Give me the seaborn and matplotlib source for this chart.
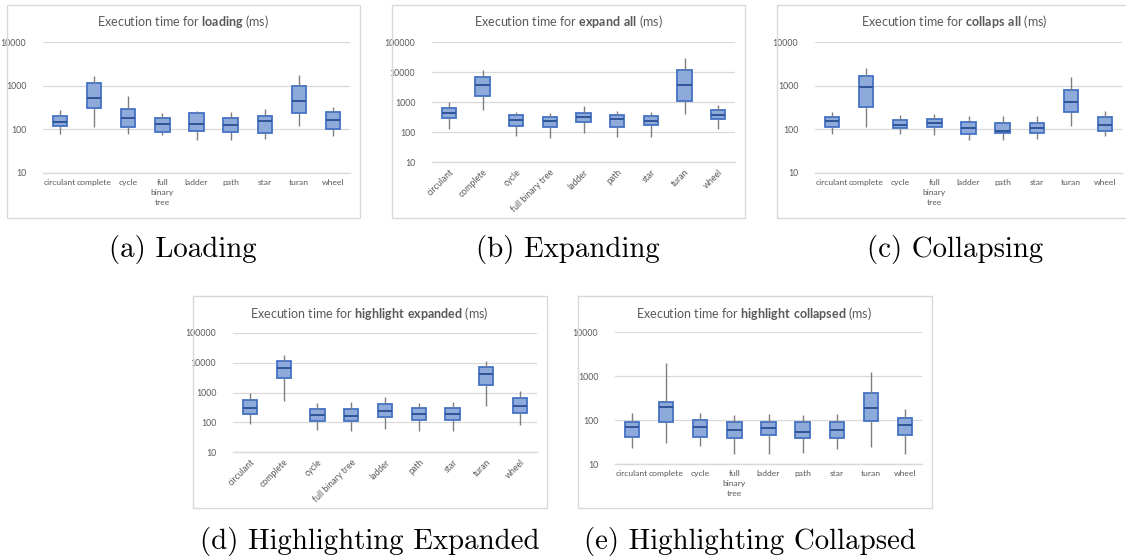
import numpy as np
import pandas as pd
import matplotlib
matplotlib.use("Agg")
import matplotlib.pyplot as plt
import seaborn as sns
from matplotlib.patches import Rectangle

# ---------------- data ----------------
categories = ["circulant", "complete", "cycle", "full binary tree", "ladder",
              "path", "star", "turan", "wheel"]

# (a) loading
load_lo  = [77, 115, 77, 74, 57, 57, 59, 119, 70]
load_q1  = [119, 310, 115, 87, 92, 87, 84, 240, 100]
load_med = [150, 525, 185, 130, 135, 125, 155, 440, 163]
load_q3  = [200, 1150, 295, 178, 235, 178, 200, 965, 248]
load_hi  = [270, 1700, 595, 240, 260, 252, 285, 1780, 320]

# (b) expand all
exp_lo  = [122, 525, 74, 65, 93, 68, 68, 390, 122]
exp_q1  = [290, 1630, 158, 147, 215, 147, 170, 1100, 265]
exp_med = [440, 3800, 258, 228, 315, 270, 232, 3800, 370]
exp_q3  = [630, 6800, 380, 315, 430, 380, 340, 12000, 555]
exp_hi  = [1000, 11500, 465, 440, 735, 490, 465, 30000, 770]

# (c) collaps all
col_lo  = [77, 113, 77, 74, 57, 57, 61, 119, 70]
col_q1  = [113, 320, 109, 113, 80, 84, 84, 252, 92]
col_med = [155, 915, 125, 142, 109, 92, 109, 425, 125]
col_q3  = [194, 1690, 163, 175, 149, 142, 142, 810, 190]
col_hi  = [252, 2600, 208, 227, 200, 200, 200, 1580, 260]

# (d) highlight expanded
hex_lo  = [88, 505, 55, 49, 58, 49, 49, 345, 81]
hex_q1  = [190, 2970, 110, 110, 147, 117, 117, 1770, 200]
hex_med = [303, 6600, 176, 163, 240, 190, 190, 4150, 343]
hex_q3  = [575, 11500, 285, 285, 400, 295, 295, 7200, 670]
hex_hi  = [960, 18000, 430, 490, 690, 430, 480, 11500, 1090]

# (e) highlight collapsed
hco_lo  = [23, 30, 26, 17, 17, 17.5, 22, 24, 17]
hco_q1  = [42, 90, 42, 38, 46, 40, 38, 95, 46]
hco_med = [69, 197, 70, 59, 67, 54, 58, 190, 76]
hco_q3  = [92, 256, 100, 92, 92, 90, 92, 418, 109]
hco_hi  = [147, 1950, 142, 130, 139, 130, 139, 1230, 175]

titles = ["loading", "expand all", "collaps all", "highlight expanded", "highlight collapsed"]
captions = ["(a) Loading", "(b) Expanding", "(c) Collapsing",
            "(d) Highlighting Expanded", "(e) Highlighting Collapsed"]
ytops = [10000, 100000, 10000, 100000, 10000]
rotated = [False, True, False, True, False]

panels = [
    (load_lo, load_q1, load_med, load_q3, load_hi),
    (exp_lo, exp_q1, exp_med, exp_q3, exp_hi),
    (col_lo, col_q1, col_med, col_q3, col_hi),
    (hex_lo, hex_q1, hex_med, hex_q3, hex_hi),
    (hco_lo, hco_q1, hco_med, hco_q3, hco_hi),
]

# ---------------- layout (pixels) ----------------
W, H = 1126, 560
sns.set_theme(style="white")
plt.rcParams["font.family"] = ["Lato", "DejaVu Sans"]
plt.rcParams["mathtext.fontset"] = "custom"
plt.rcParams["mathtext.rm"] = "Lato"
plt.rcParams["mathtext.bf"] = "Lato:bold"

fig = plt.figure(figsize=(W / 100, H / 100), dpi=100)
fig.patch.set_facecolor("white")

# axes rect: x0, x1, ytop, ybottom (pixels from top)
ax_px = [(43, 350, 42, 173), (432, 735, 42, 162), (815, 1122, 42, 173),
         (233, 537, 333, 452), (615, 922, 332, 464)]
border_px = [(7, 360, 5, 218), (392, 745, 5, 218), (777, 1132, 5, 218),
             (193, 547, 296, 508), (578, 932, 296, 508)]
title_px = [(183, 22), (568, 22), (954, 22), (369, 313), (754, 313)]
caption_px = [(183, 250), (568, 250), (955, 250), (370, 541), (750, 541)]

GRAY_TXT = "#595959"
GRID = "#d9d9d9"

for i in range(5):
    lo, q1, med, q3, hi = panels[i]
    rows = []
    for c, a, b, m, d, e in zip(categories, lo, q1, med, q3, hi):
        for v in (a, b, m, d, e):
            rows.append((c, v))
    df = pd.DataFrame(rows, columns=["graph", "ms"])

    bx0, bx1, by0, by1 = border_px[i]
    fig.patches.append(Rectangle((bx0 / W, 1 - by1 / H), (bx1 - bx0) / W, (by1 - by0) / H,
                                 transform=fig.transFigure, fill=False,
                                 edgecolor="#d9d9d9", linewidth=1.0, zorder=0))

    x0, x1, yt, yb = ax_px[i]
    ax = fig.add_axes([x0 / W, 1 - yb / H, (x1 - x0) / W, (yb - yt) / H])
    ax.set_facecolor("none")
    sns.boxplot(data=df, x="graph", y="ms", order=categories, ax=ax,
                whis=(0, 100), width=0.42, log_scale=True, showfliers=False,
                boxprops=dict(facecolor="#8eaadb", edgecolor="#4472c4", linewidth=1.3),
                medianprops=dict(color="#2f5597", linewidth=1.4),
                whiskerprops=dict(color="#7f7f7f", linewidth=1.0),
                capprops=dict(linewidth=0))
    ax.set_ylim(10, ytops[i])
    ax.set_xlim(-0.5, len(categories) - 0.5)
    ax.set_xlabel("")
    ax.set_ylabel("")
    decades = [10 ** k for k in range(1, int(np.log10(ytops[i])) + 1)]
    ax.set_yticks(decades)
    ax.set_yticklabels([str(d) for d in decades], fontsize=6.3, color=GRAY_TXT)
    ax.yaxis.set_minor_locator(matplotlib.ticker.NullLocator())
    ax.grid(axis="y", color=GRID, linewidth=0.9)
    ax.set_axisbelow(True)
    for s in ["top", "right", "left"]:
        ax.spines[s].set_visible(False)
    ax.spines["bottom"].set_color(GRID)
    ax.spines["bottom"].set_linewidth(1.0)
    ax.tick_params(axis="y", length=0, pad=12)
    ax.tick_params(axis="x", which="major", length=0, pad=4)
    ax.set_xticks(np.arange(len(categories) + 1) - 0.5, minor=True)
    ax.tick_params(axis="x", which="minor", length=3, color=GRID, width=1.0)
    if rotated[i]:
        ax.set_xticks(range(len(categories)))
        ax.set_xticklabels(categories, rotation=45, ha="right", rotation_mode="anchor",
                           fontsize=6.3, color=GRAY_TXT)
    else:
        labs = [c.replace(" ", "\n") if c == "full binary tree" else c for c in categories]
        ax.set_xticks(range(len(categories)))
        ax.set_xticklabels(labs, fontsize=6.1, color=GRAY_TXT, linespacing=1.5, va="top")

    tx, ty = title_px[i]
    t = titles[i].replace(" ", r"\ ")
    fig.text(tx / W, 1 - ty / H, "Execution time for $\\mathbf{" + t + "}$ (ms)",
             ha="center", va="center", fontsize=9, color=GRAY_TXT)

    cx, cy = caption_px[i]
    fig.text(cx / W, 1 - cy / H, captions[i], ha="center", va="center",
             fontsize=20.8, family="cmr10", color="black")

fig.savefig("out.png", dpi=100, facecolor="white")
